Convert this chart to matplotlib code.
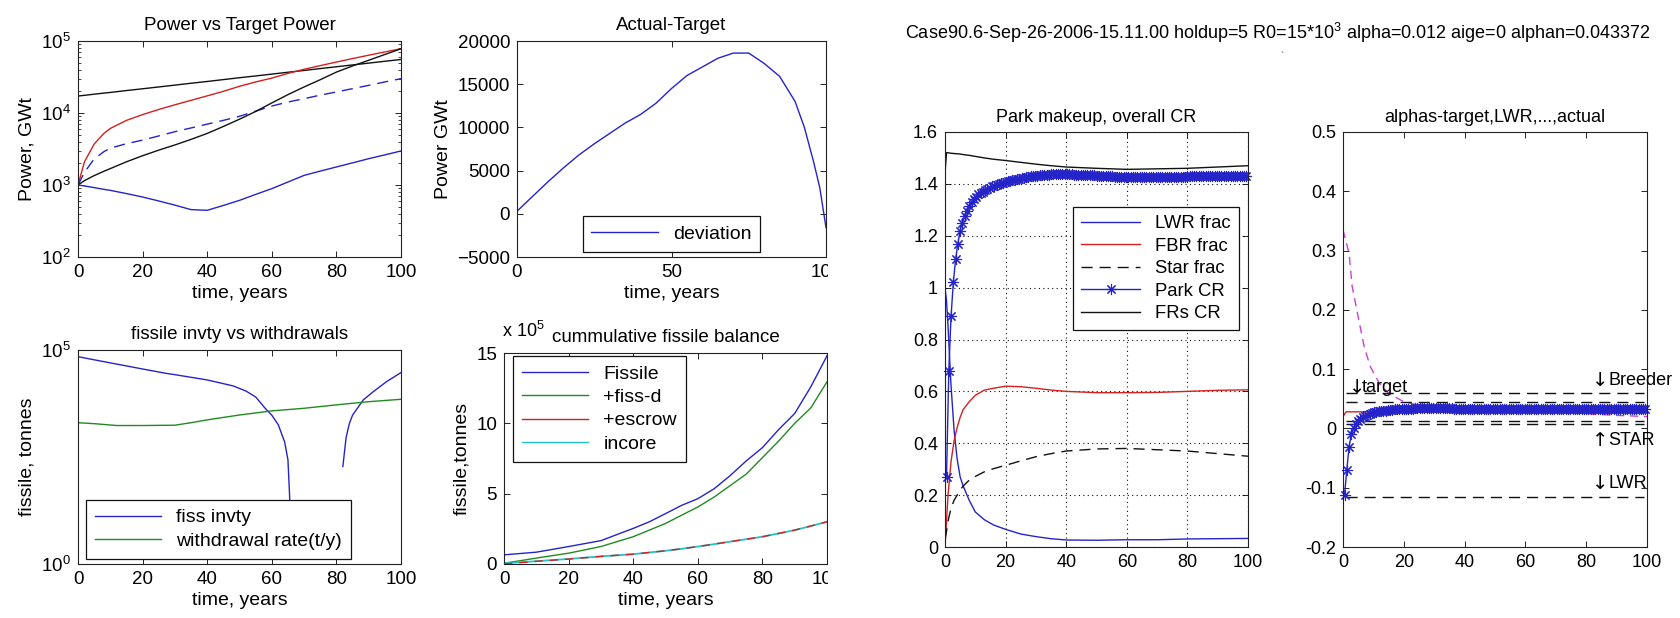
import numpy as np
import matplotlib
matplotlib.use("Agg")
import matplotlib.pyplot as plt
from matplotlib.patches import Rectangle
from matplotlib.ticker import NullLocator

plt.rcParams['font.family'] = ['Liberation Sans', 'DejaVu Sans']
plt.rcParams['mathtext.fontset'] = 'custom'
plt.rcParams['mathtext.rm'] = 'Liberation Sans'
plt.rcParams['mathtext.default'] = 'regular'

# ---- power vs target power (log) ----
t1 = [0, 2, 5, 8, 10, 15, 20, 25, 30, 35, 40, 45, 50, 55, 60, 65, 70, 75, 80, 85, 90, 95, 100]
target_hi = [17200, 17600, 18250, 18900, 19300, 20500, 21700, 23000, 24400, 25900, 27400, 29100,
             30900, 32700, 34700, 36800, 39000, 41400, 43900, 46500, 49300, 52300, 55400]
power_red = [1000, 2100, 3700, 5200, 6100, 7900, 9500, 11200, 13000, 15000, 17300, 20000,
             23500, 27000, 30500, 35500, 40500, 45500, 51000, 57000, 63500, 70500, 78000]
power_dash = [1000, 1500, 2300, 2900, 3250, 3750, 4200, 4800, 5500, 6200, 7000, 7900,
              9000, 10600, 12500, 14200, 15800, 17700, 19600, 21800, 24200, 27000, 30000]
target_lo = [1000, 1150, 1350, 1550, 1690, 2100, 2550, 3050, 3600, 4300, 5200, 6500,
             8200, 10500, 13800, 18000, 23000, 29000, 37000, 45000, 54000, 65000, 78000]
power_blue = [1000, 970, 920, 870, 843, 760, 681, 600, 525, 455, 445, 520,
              612, 740, 890, 1100, 1360, 1560, 1780, 2030, 2320, 2620, 2970]

# ---- actual - target ----
t2 = [0, 5, 10, 15, 20, 25, 30, 35, 40, 45, 50, 55, 60, 65, 70, 75, 80, 85, 90, 93, 96, 98, 100]
deviation = [300, 2000, 3700, 5300, 6800, 8100, 9300, 10500, 11500, 12800, 14500, 16000,
             17000, 18000, 18600, 18600, 17400, 15900, 13000, 10000, 6000, 3000, -1600]

# ---- fissile inventory vs withdrawals (log) ----
t3_fiss = [0, 10, 20, 27, 30, 40, 48, 52, 55, 58, 60, 62, 64, 65, 65.5, 66, 74,
           82, 83, 84, 85, 88.3, 91.4, 95.6, 100]
fiss_invty = [69800, 50000, 36000, 28700, 26500, 20000, 14500, 11000, 8000, 4300, 3000, 1800,
              700, 270, 41, 2, np.nan, 190, 900, 1900, 3000, 6800, 10600, 18400, 29700]
t3_wd = [0, 5, 12, 20, 30, 35, 40, 50, 60, 70, 80, 90, 100]
withdrawal = [2000, 1900, 1720, 1720, 1750, 2000, 2330, 3030, 3780, 4350, 5230, 6200, 7050]

# ---- cumulative fissile balance (x 1e5 tonnes) ----
t4 = [0, 10, 20, 30, 40, 45, 50, 55, 60, 65, 70, 75, 80, 85, 90, 95, 100]
fissile = [0.65, 0.84, 1.24, 1.66, 2.53, 3.0, 3.58, 4.17, 4.64, 5.34, 6.28, 7.33, 8.27, 9.55, 10.7, 12.6, 14.8]
fiss_d = [0.05, 0.42, 0.77, 1.24, 1.94, 2.41, 2.88, 3.47, 4.05, 4.75, 5.57, 6.39, 7.56, 8.73, 10.0, 11.1, 12.95]
escrow = [0.0, 0.19, 0.35, 0.54, 0.7, 0.82, 0.94, 1.08, 1.24, 1.41, 1.59, 1.76, 1.94, 2.17, 2.41, 2.7, 3.0]
incore = [0.05, 0.2, 0.36, 0.54, 0.7, 0.82, 0.94, 1.08, 1.24, 1.41, 1.59, 1.76, 1.94, 2.17, 2.41, 2.7, 3.0]

# ---- park makeup ----
t5 = [0, 0.5, 1, 2, 3, 4, 5, 6, 8, 10, 13, 16, 20, 25, 30, 35, 40, 50, 60, 70, 80, 90, 100]
lwr_frac = [1.0, 0.95, 0.85, 0.62, 0.45, 0.34, 0.27, 0.235, 0.18, 0.135, 0.105, 0.085, 0.068,
            0.05, 0.04, 0.032, 0.027, 0.026, 0.028, 0.028, 0.031, 0.032, 0.033]
fbr_frac = [0.0, 0.1, 0.2, 0.33, 0.41, 0.46, 0.5, 0.53, 0.56, 0.585, 0.605, 0.612, 0.62,
            0.618, 0.612, 0.605, 0.6, 0.595, 0.595, 0.596, 0.6, 0.604, 0.606]
star_frac = [0.03, 0.06, 0.1, 0.15, 0.18, 0.2, 0.22, 0.235, 0.258, 0.272, 0.29, 0.302, 0.315,
             0.332, 0.348, 0.36, 0.37, 0.378, 0.38, 0.375, 0.37, 0.36, 0.35]
frs_cr = [1.44, 1.52, 1.52, 1.518, 1.517, 1.516, 1.515, 1.513, 1.51, 1.506, 1.5, 1.495, 1.49,
          1.483, 1.476, 1.47, 1.465, 1.46, 1.456, 1.458, 1.46, 1.465, 1.47]

park_cr = [0.27, 0.68, 0.89, 1.02, 1.11, 1.17, 1.22, 1.25, 1.275, 1.295, 1.315, 1.33, 1.34, 1.35,
           1.36, 1.365, 1.37, 1.375, 1.38, 1.385, 1.39, 1.393, 1.396, 1.399, 1.402, 1.405, 1.407,
           1.41, 1.412, 1.414, 1.416, 1.418, 1.42, 1.422, 1.424, 1.426, 1.428, 1.429, 1.43, 1.431,
           1.432, 1.433, 1.434, 1.435, 1.436, 1.436, 1.437, 1.437, 1.438, 1.438, 1.438, 1.438, 1.438,
           1.437, 1.437, 1.437, 1.436, 1.436, 1.436, 1.435, 1.435, 1.434, 1.434, 1.434, 1.433, 1.433, 1.432,
           1.432, 1.431, 1.431, 1.43, 1.43, 1.429, 1.429, 1.428, 1.428, 1.428, 1.427, 1.427, 1.427,
           1.426, 1.426, 1.426, 1.426, 1.425, 1.425, 1.425, 1.425, 1.425, 1.425, 1.425, 1.425, 1.425, 1.426,
           1.426, 1.426, 1.426, 1.427, 1.427, 1.427, 1.427, 1.428, 1.428, 1.428, 1.428, 1.428, 1.429,
           1.429, 1.429, 1.429, 1.429, 1.429, 1.43, 1.43, 1.43, 1.43, 1.43, 1.43, 1.43, 1.43, 1.43,
           1.43, 1.43, 1.43, 1.43, 1.43, 1.43, 1.43, 1.43, 1.43, 1.43, 1.43, 1.43]

# ---- alphas ----
alpha_actual = [-0.112, -0.07, -0.031, -0.01, 0.0, 0.007, 0.012, 0.016, 0.019, 0.021,
                0.023, 0.025, 0.026, 0.027, 0.028, 0.029, 0.029, 0.03, 0.03, 0.031,
                0.031, 0.031, 0.032, 0.032, 0.032, 0.032, 0.033, 0.033, 0.033, 0.033,
                0.033, 0.034, 0.034, 0.034, 0.034, 0.034, 0.034, 0.034, 0.034, 0.034,
                0.034, 0.034, 0.034, 0.034, 0.034, 0.034, 0.034, 0.034, 0.033, 0.033,
                0.033, 0.033, 0.033, 0.033, 0.033, 0.033, 0.033, 0.033, 0.033, 0.033,
                0.033, 0.033, 0.033, 0.033, 0.033, 0.033, 0.033, 0.033, 0.033, 0.033,
                0.033, 0.033, 0.033, 0.033, 0.033, 0.033, 0.033, 0.033, 0.033, 0.033,
                0.032, 0.032, 0.032, 0.032, 0.032, 0.032, 0.032, 0.032, 0.032, 0.032,
                0.032, 0.032, 0.032, 0.032, 0.032, 0.032, 0.032, 0.032, 0.032, 0.032,
                0.032, 0.032, 0.032, 0.032, 0.032, 0.032, 0.032, 0.032, 0.032, 0.032,
                0.032, 0.032, 0.032, 0.032, 0.032, 0.032, 0.032, 0.032, 0.032, 0.032,
                0.032, 0.032, 0.032, 0.032, 0.032, 0.032, 0.032, 0.032, 0.032, 0.032,
                0.032, 0.032, 0.032]
t_sim = 0.5 + 0.75 * np.arange(len(park_cr))

t6_m = [0, 1, 2, 3, 5, 7, 9, 12, 15, 20, 25, 30, 40, 60, 80, 90, 100]
alpha_m = [0.335, 0.315, 0.295, 0.24, 0.188, 0.137, 0.104, 0.076, 0.059, 0.045, 0.039,
           0.035, 0.033, 0.03, 0.025, 0.022, 0.02]
t6_r = [0, 1, 100]
alpha_r = [0.02, 0.028, 0.028]
ref_alphas = [0.06, 0.045, 0.013, 0.007, -0.115]
# annotation: (arrow, label, x, y)
ref_notes = [('\u2193', 'Breeder', 82, 0.081), ('\u2193', 'target', 2, 0.069),
             ('\u2191', 'STAR', 82, -0.02), ('\u2193', 'LWR', 82, -0.093)]

title_main = r'Case90.6-Sep-26-2006-15.11.00 holdup=5 R0=15*10$^3$ alpha=0.012 aige=0 alphan=0.043372'

BLUE = '#2424c8'
RED = '#d42020'
GREEN = '#218a21'
CYAN = '#22c2c8'
MAG = '#d040d0'
BLK = '#111111'
LW = 1.0

W, H = 1680, 618


def box(l, t, r, b):
    return [l / W, 1 - b / H, (r - l) / W, (b - t) / H]


def style(ax, fs):
    ax.tick_params(direction='in', top=True, right=True, length=4, width=0.6,
                   labelsize=fs, pad=5)
    ax.tick_params(which='minor', direction='in', top=True, right=True, length=2, width=0.5)
    for s in ax.spines.values():
        s.set_linewidth(0.8)
        s.set_color('#222222')


def legend(ax, loc, anchor, fs, hl):
    lg = ax.legend(loc=loc, bbox_to_anchor=anchor, fontsize=fs, fancybox=False,
                   edgecolor='#111111', framealpha=1, borderaxespad=0, handlelength=hl,
                   numpoints=1, labelspacing=0.3, borderpad=0.45)
    lg.get_frame().set_linewidth(0.9)
    return lg


fig = plt.figure(figsize=(16.8, 6.18), dpi=100)

TF, LF, KF, GF = 13.5, 14, 13.5, 14  # title, label, tick, legend sizes (left figure)

# panel 1
ax1 = fig.add_axes(box(78, 41, 401, 257))
ax1.semilogy(t1, target_hi, color=BLK, lw=LW)
ax1.semilogy(t1, power_red, color=RED, lw=LW)
ax1.semilogy(t1, power_dash, color=BLUE, lw=LW, ls=(0, (8, 5)))
ax1.semilogy(t1, target_lo, color=BLK, lw=LW)
ax1.semilogy(t1, power_blue, color=BLUE, lw=LW)
ax1.set_xlim(0, 100)
ax1.set_ylim(1e2, 1e5)
ax1.set_xticks(range(0, 101, 20))
ax1.set_title('Power vs Target Power', fontsize=TF, pad=8)
ax1.set_xlabel('time, years', fontsize=LF, labelpad=3)
ax1.set_ylabel('Power, GWt', fontsize=LF)
style(ax1, KF)

# panel 2
ax2 = fig.add_axes(box(517, 41, 826, 257))
ax2.plot(t2, deviation, color=BLUE, lw=LW, label='deviation')
ax2.set_xlim(0, 100)
ax2.set_ylim(-5000, 20000)
ax2.set_xticks([0, 50, 100])
ax2.set_yticks(range(-5000, 20001, 5000))
ax2.set_title('Actual-Target', fontsize=TF, pad=8)
ax2.set_xlabel('time, years', fontsize=LF, labelpad=3)
ax2.set_ylabel('Power GWt', fontsize=LF)
style(ax2, KF)
legend(ax2, 'lower center', (0.5, 0.025), GF, 3.4)

# panel 3
ax3 = fig.add_axes(box(78, 350, 401, 564))
ax3.plot(t3_fiss, fiss_invty, color=BLUE, lw=LW, label='fiss invty')
ax3.plot(t3_wd, withdrawal, color=GREEN, lw=LW, label='withdrawal rate(t/y)')
ax3.set_yscale('log')
ax3.set_xlim(0, 100)
ax3.set_ylim(1, 1e5)
ax3.set_yticks([1, 1e5])
ax3.yaxis.set_minor_locator(NullLocator())
ax3.set_xticks(range(0, 101, 20))
ax3.set_title('fissile invty vs withdrawals', fontsize=TF, pad=8)
ax3.set_xlabel('time, years', fontsize=LF, labelpad=3)
ax3.set_ylabel('fissile, tonnes', fontsize=LF)
style(ax3, KF)
legend(ax3, 'lower left', (0.025, 0.025), GF, 3.4)

# panel 4
ax4 = fig.add_axes(box(504, 353, 827, 564))
ax4.plot(t4, fissile, color=BLUE, lw=LW, label='Fissile')
ax4.plot(t4, fiss_d, color=GREEN, lw=LW, label='+fiss-d')
ax4.plot(t4, incore, color=CYAN, lw=1.3, zorder=2)
ax4.plot(t4, escrow, color=RED, lw=LW, ls=(0, (6, 5)), zorder=3)
ax4.plot([], [], color=RED, lw=LW, label='+escrow')
ax4.plot([], [], color=CYAN, lw=LW, label='incore')
ax4.set_xlim(0, 100)
ax4.set_ylim(0, 15)
ax4.set_yticks([0, 5, 10, 15])
ax4.set_xticks(range(0, 101, 20))
ax4.set_title('cummulative fissile balance', fontsize=TF, pad=8)
ax4.set_xlabel('time, years', fontsize=LF, labelpad=3)
ax4.set_ylabel('fissile,tonnes', fontsize=LF)
style(ax4, KF)
legend(ax4, 'upper left', (0.028, 0.985), GF, 3.4)
fig.text(502 / W, 1 - 331 / H, r'x 10$^5$', fontsize=13, ha='left', va='center')

# clip the left figure like the screenshot
fig.add_artist(Rectangle((828 / W, 0), 60 / W, 1, transform=fig.transFigure,
                         facecolor='white', edgecolor='none', zorder=10))

# right figure title
fig.text(1278 / W, 1 - 33 / H, title_main, fontsize=13, ha='center', va='center')
fig.text(1282 / W, 1 - 57 / H, '`', fontsize=7, ha='center', va='center', color='#444444')

RT, RK, RG = 13, 13, 13.3

# panel 5
ax5 = fig.add_axes(box(945, 132, 1248, 547))
ax5.plot(t5, lwr_frac, color=BLUE, lw=LW, label='LWR frac')
ax5.plot(t5, fbr_frac, color=RED, lw=LW, label='FBR frac')
ax5.plot(t5, star_frac, color=BLK, lw=LW, ls=(0, (8, 5)), label='Star frac')
ax5.plot(t_sim, park_cr, color=BLUE, lw=LW, marker=(8, 2, 0), ms=8, mew=0.8,
         clip_on=False, label='Park CR')
ax5.plot(t5, frs_cr, color=BLK, lw=LW, label='FRs CR')
ax5.set_xlim(0, 100)
ax5.set_ylim(0, 1.6)
ax5.set_xticks(range(0, 101, 20))
ax5.set_yticks(np.arange(0, 1.61, 0.2))
ax5.set_yticklabels(['0', '0.2', '0.4', '0.6', '0.8', '1', '1.2', '1.4', '1.6'])
ax5.grid(True, ls=(0, (1, 3)), color='#111111', lw=0.8)
ax5.set_title('Park makeup, overall CR', fontsize=RT, pad=7)
style(ax5, RK)
legend(ax5, 'upper right', (0.97, 0.82), RG, 3.2)

# panel 6
ax6 = fig.add_axes(box(1343, 132, 1647, 547))
ax6.plot(t6_m, alpha_m, color=MAG, lw=LW, ls=(0, (6, 4)))
ax6.plot(t6_r, alpha_r, color=RED, lw=LW)
ax6.hlines(ref_alphas, 1, 99, colors=BLK, lw=LW, linestyles=[(0, (8, 5))])
ax6.plot(t_sim, alpha_actual, color=BLUE, lw=LW, marker=(8, 2, 0), ms=8, mew=0.8, clip_on=False)
ax6.set_xlim(0, 100)
ax6.set_ylim(-0.2, 0.5)
ax6.set_xticks(range(0, 101, 20))
ax6.set_yticks(np.arange(-0.2, 0.51, 0.1))
ax6.set_yticklabels(['-0.2', '-0.1', '0', '0.1', '0.2', '0.3', '0.4', '0.5'])
ax6.set_title('alphas-target,LWR,...,actual', fontsize=RT, pad=7)
style(ax6, RK)
for arrow, label, x, y in ref_notes:
    ax6.text(x, y, arrow, fontsize=14, family=['DejaVu Sans'], ha='left', va='center')
    ax6.text(x + (4.3 if x < 50 else 5.2), y, label, fontsize=13, ha='left', va='center')

fig.savefig('out.png', dpi=100, facecolor='white')
